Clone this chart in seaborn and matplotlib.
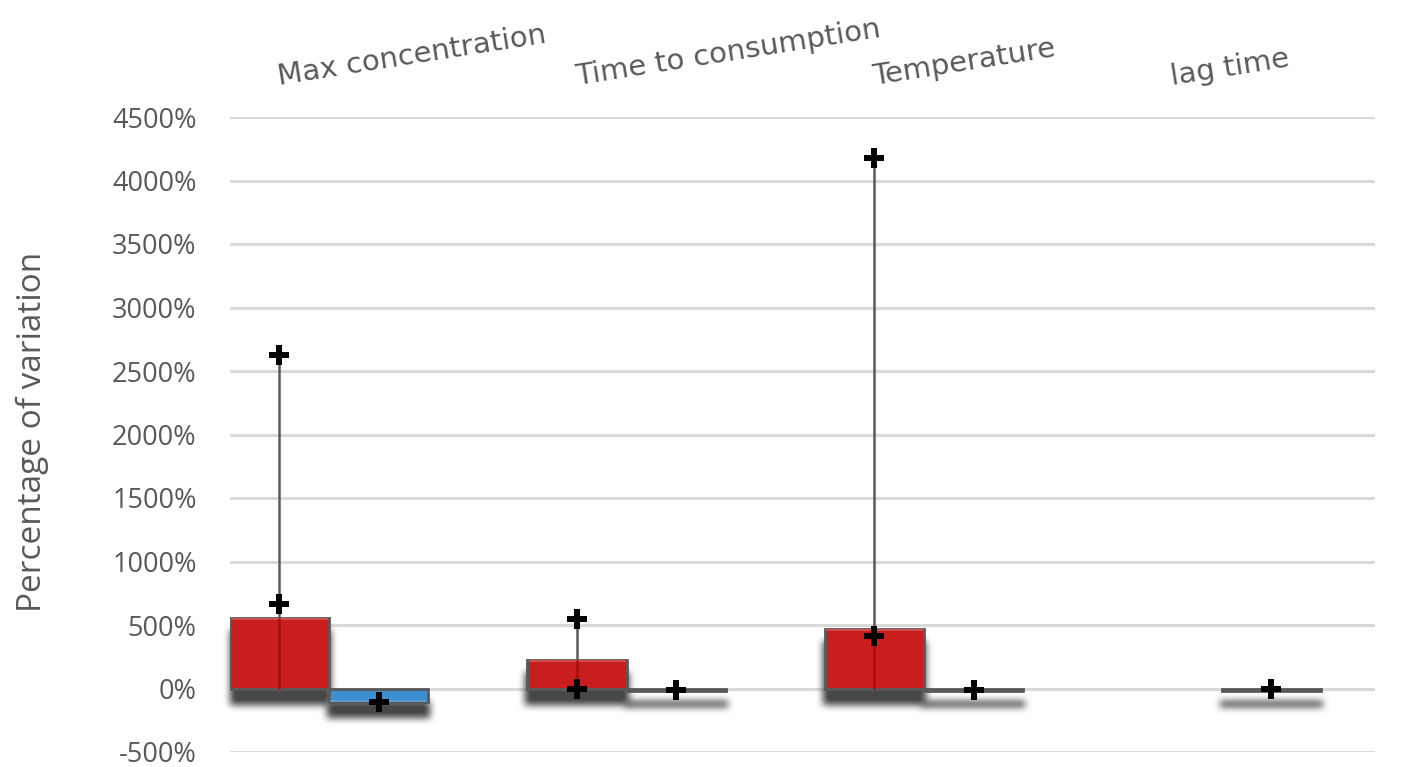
import numpy as np
import pandas as pd
import matplotlib
matplotlib.use("Agg")
import matplotlib.pyplot as plt
import matplotlib.transforms as mtransforms
import seaborn as sns

# ---- data -------------------------------------------------------------
categories = ["Max concentration", "Time to consumption", "Temperature", "lag time"]
increase_values = [558, 228, 472, np.nan]          # red series (%)
decrease_values = [-110, -20, -20, -20]            # blue series (%)
increase_low = [669, 0, 417, np.nan]               # lower marker of red series
increase_high = [2627, 551, 4177, np.nan]          # upper marker of red series
decrease_marks = [-110, -15, -15, -5]              # markers on blue series
y_ticks = [-500, 0, 500, 1000, 1500, 2000, 2500, 3000, 3500, 4000, 4500]

RED = "#c81e1e"
RED_DARK = "#a80d0d"
BLUE = "#3d8fd1"
EDGE = "#595959"
TEXT = "#595959"
GRID = "#d9d9d9"

sns.set_theme(style="white")
plt.rcParams["font.family"] = ["DejaVu Sans"]

fig = plt.figure(figsize=(14.03, 7.67), dpi=100)
W, H = 1403, 767
ax = fig.add_axes([230 / W, (H - 752) / H, (1375 - 230) / W, (752 - 117) / H])

df = pd.DataFrame({
    "category": categories * 2,
    "series": ["increase"] * 4 + ["decrease"] * 4,
    "value": increase_values + decrease_values,
})


def _blur(a, k, passes):
    kern = np.ones(k) / k
    for _ in range(passes):
        a = np.apply_along_axis(lambda r: np.convolve(r, kern, mode="same"), 0, a)
        a = np.apply_along_axis(lambda r: np.convolve(r, kern, mode="same"), 1, a)
    return a


def soft_shadow(im, dpi):
    """Blurred dark copy of the artist, pushed downward."""
    pad = 30
    a = np.pad(im[..., 3], ((pad, pad), (pad, pad)))
    a = np.roll(a, 14, axis=0)
    a = _blur(a, k=7, passes=3)
    out = np.zeros(a.shape + (4,))
    out[..., :3] = 0.28
    out[..., 3] = np.clip(a * 1.05, 0, 1)
    return out, -pad, -pad


# shadows underneath the bars
sns.barplot(
    data=df, x="category", y="value", hue="series", order=categories,
    hue_order=["increase", "decrease"], palette=["#4a4a4a", "#4a4a4a"],
    width=0.667, dodge=True, ax=ax, legend=False, saturation=1,
    edgecolor="#4a4a4a", linewidth=3,
)
shadow_patches = list(ax.patches)
for p in shadow_patches:
    p.set_agg_filter(soft_shadow)
    p.set_zorder(1)
    p.set_rasterized(True)

xpos = np.arange(len(categories))
red_x = xpos - 0.1667
blue_x = xpos + 0.1667

# main bars
sns.barplot(
    data=df, x="category", y="value", hue="series", order=categories,
    hue_order=["increase", "decrease"], palette=[RED, BLUE],
    width=0.667, dodge=True, ax=ax, legend=False, saturation=1,
    edgecolor=EDGE, linewidth=2,
)
for p in ax.patches[len(shadow_patches):]:
    p.set_zorder(3)
    p.set_edgecolor(EDGE)

# light top band on bars for a slight gradient
for p in ax.patches[len(shadow_patches):]:
    h = p.get_height()
    if np.isnan(h) or abs(h) < 60:
        continue
    col = "#ee4a4a" if h > 0 else "#5aa6e0"
    ax.add_patch(plt.Rectangle((p.get_x() + 0.004, p.get_y() + h - 18 * np.sign(h)),
                               p.get_width() - 0.008, 16 * np.sign(h),
                               color=col, lw=0, zorder=3.5, alpha=0.8))

# high-low lines from zero up to the high value; darker where seen through the bar
for x, bar, hi in zip(red_x, increase_values, increase_high):
    if np.isnan(hi):
        continue
    ax.plot([x, x], [bar, hi], color=EDGE, lw=1.8, zorder=2, solid_capstyle="butt")
    ax.plot([x, x], [0, bar], color=RED_DARK, lw=1.8, zorder=3.8, solid_capstyle="butt")

# markers
for xs, ys in ((red_x, increase_low), (red_x, increase_high), (blue_x, decrease_marks)):
    ax.plot(xs, ys, ls="none", marker="P", ms=15, color="black",
            markeredgewidth=0, zorder=5)

# axes styling
ax.set_ylim(-500, 4500)
ax.set_xlim(-0.333, -0.333 + (1375 - 230) / 297.5)
ax.set_yticks(y_ticks)
ax.set_yticklabels([f"{v}%" for v in y_ticks], family=["Open Sans", "DejaVu Sans"])
ax.yaxis.grid(True, color=GRID, lw=2.2, zorder=0)
ax.set_axisbelow(True)
for s in ax.spines.values():
    s.set_visible(False)
ax.tick_params(axis="y", length=0, pad=24, labelsize=19.5, labelcolor=TEXT)
ax.set_xticks([])
ax.set_xlabel("")
ax.set_ylabel("")

# category labels along the top, tilted
trans = mtransforms.blended_transform_factory(ax.transData, ax.transAxes)
for x, name in zip(red_x, categories):
    ax.text(x, 1.05, name, transform=trans, rotation=9, rotation_mode="anchor",
            ha="left", va="baseline", fontsize=21, color=TEXT, clip_on=False)

fig.text(32 / W, 1 - 432 / H, "Percentage of variation", rotation=90,
         ha="center", va="center", fontsize=24, color=TEXT,
         family=["Open Sans", "DejaVu Sans"])

fig.savefig("out.png", dpi=100, facecolor="white")
